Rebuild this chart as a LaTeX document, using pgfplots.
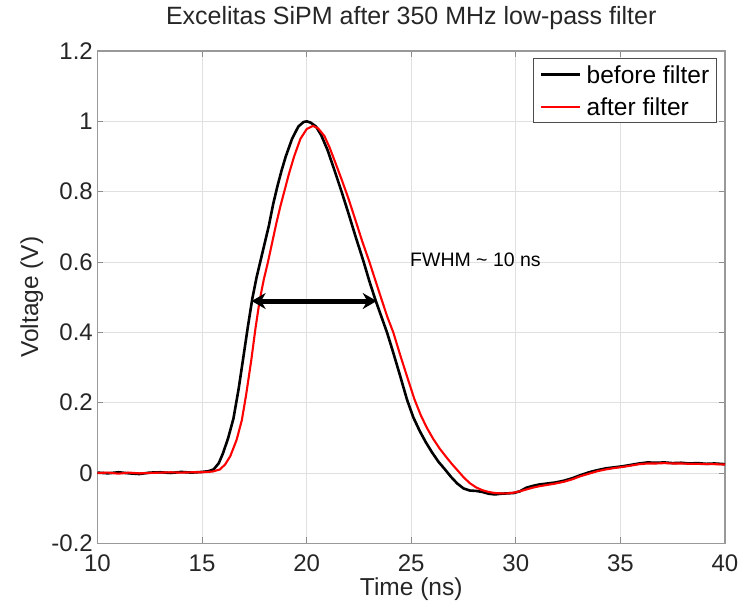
\documentclass[border=0pt]{standalone}
\usepackage{pgfplots}
\pgfplotsset{compat=1.18}
\usetikzlibrary{arrows.meta}
\usepackage{fontspec}
\setmainfont{Liberation Sans}
\pgfplotstableread{
x y
10.0 0.001
10.5 -0.001
11.0 0.002
11.5 -0.001
12.0 -0.003
12.5 0.001
13.0 0.002
13.5 0.000
14.0 0.003
14.5 0.001
15.0 0.003
15.3 0.005
15.55 0.010
15.8 0.028
16.0 0.056
16.25 0.10
16.5 0.155
16.75 0.24
17.0 0.34
17.2 0.42
17.4 0.495
17.6 0.555
17.8 0.605
18.0 0.655
18.2 0.705
18.4 0.765
18.6 0.815
18.8 0.86
19.0 0.90
19.3 0.95
19.6 0.985
19.85 0.998
20.0 1.0
20.2 0.996
20.45 0.985
20.7 0.96
21.0 0.918
21.3 0.866
21.67 0.80
22.0 0.738
22.35 0.67
22.7 0.605
23.0 0.545
23.3 0.49
23.6 0.44
23.85 0.398
24.1 0.35
24.45 0.28
24.8 0.208
25.1 0.158
25.4 0.12
25.7 0.087
26.0 0.058
26.3 0.032
26.6 0.011
26.9 -0.011
27.2 -0.03
27.5 -0.044
27.8 -0.050
28.1 -0.051
28.4 -0.054
28.7 -0.059
29.0 -0.061
29.3 -0.059
29.6 -0.058
29.9 -0.057
30.2 -0.052
30.5 -0.042
30.8 -0.037
31.1 -0.033
31.5 -0.030
31.9 -0.027
32.3 -0.022
32.7 -0.015
33.1 -0.006
33.5 0.002
33.9 0.008
34.3 0.013
34.7 0.016
35.1 0.019
35.5 0.023
35.9 0.027
36.3 0.030
36.7 0.029
37.1 0.030
37.5 0.028
37.9 0.029
38.3 0.027
38.7 0.028
39.1 0.026
39.5 0.027
40.0 0.025
}\before
\pgfplotstableread{
x y
10.0 0.000
10.5 0.001
11.0 -0.002
11.5 0.001
12.0 -0.001
12.5 0.000
13.0 0.001
13.5 0.002
14.0 0.001
14.5 0.002
15.0 0.002
15.5 0.004
15.85 0.010
16.1 0.024
16.35 0.048
16.65 0.094
16.9 0.15
17.1 0.22
17.35 0.32
17.55 0.41
17.75 0.49
17.95 0.55
18.15 0.60
18.35 0.655
18.55 0.71
18.75 0.76
18.95 0.805
19.15 0.85
19.4 0.90
19.7 0.95
20.0 0.978
20.3 0.987
20.55 0.98
20.85 0.958
21.1 0.925
21.4 0.878
21.7 0.83
22.0 0.78
22.3 0.725
22.65 0.66
23.0 0.60
23.3 0.545
23.6 0.49
23.85 0.445
24.14 0.40
24.5 0.33
24.85 0.265
25.15 0.21
25.45 0.165
25.75 0.128
26.05 0.097
26.35 0.07
26.65 0.047
26.95 0.025
27.25 0.005
27.5 -0.012
27.8 -0.029
28.1 -0.041
28.4 -0.049
28.7 -0.054
29.0 -0.057
29.3 -0.058
29.6 -0.058
29.9 -0.056
30.2 -0.052
30.5 -0.047
30.8 -0.042
31.1 -0.038
31.5 -0.034
31.9 -0.030
32.3 -0.025
32.7 -0.018
33.1 -0.009
33.5 -0.002
33.9 0.005
34.3 0.010
34.7 0.014
35.1 0.017
35.5 0.021
35.9 0.025
36.3 0.027
36.7 0.027
37.1 0.028
37.5 0.027
37.9 0.027
38.3 0.026
38.7 0.026
39.1 0.025
39.5 0.025
40.0 0.024
}\after
\begin{document}
\begin{tikzpicture}
\path[use as bounding box] (-97.5pt,-59.7pt) rectangle (647.5pt,543.3pt);
\begin{axis}[
  at={(0pt,0pt)}, anchor=south west,
  scale only axis, width=627.5pt, height=492.3pt,
  xmin=10, xmax=40, ymin=-0.2, ymax=1.2,
  xtick={10,15,20,25,30,35,40},
  xticklabels={10,15,20,25,30,35,40},
  ytick={-0.2,0,0.2,0.4,0.6,0.8,1,1.2},
  yticklabels={-0.2,0,0.2,0.4,0.6,0.8,1,1.2},
  tick align=inside,
  major tick length=6pt,
  every tick/.style={black!45, line width=0.8pt},
  axis line style={black!40, line width=1.2pt},
  grid=major,
  major grid style={black!12, line width=0.8pt},
  /pgf/number format/assume math mode=true,
  ticklabel style={font=\fontsize{24}{28}\selectfont, text=black!85},
  xticklabel style={anchor=base, inner sep=0pt, yshift=-27.7pt},
  yticklabel style={anchor=east, inner sep=0pt, xshift=-4.5pt},
  title={Excelitas SiPM after 350 MHz low-pass filter},
  title style={at={(axis description cs:0.5,1)}, anchor=base, yshift=20pt, inner sep=0pt, font=\fontsize{25}{29}\selectfont, text=black!85},
  xlabel={Time (ns)},
  xlabel style={at={(axis description cs:0.5,0)}, anchor=base, yshift=-51.7pt, inner sep=0pt, font=\fontsize{24.5}{28}\selectfont, text=black!85},
  ylabel={Voltage (V)},
  ylabel style={at={(axis description cs:-0.0948,0.5)}, anchor=base, inner sep=0pt, font=\fontsize{24.5}{28}\selectfont, text=black!85},
  legend style={at={(1,1)}, anchor=north east, xshift=-8.3pt, yshift=-7.3pt,
    draw=black!70, line width=0.8pt, fill=white,
    font=\fontsize{24.5}{28}\selectfont, inner xsep=7pt, inner ysep=7pt,
    row sep=15.2pt, nodes={inner sep=0pt, text height=17.5pt, text depth=0pt},
    /tikz/every odd column/.append style={column sep=5pt}},
  legend cell align=left,
  legend image code/.code={\draw[#1] (0pt,0pt) -- (39pt,0pt);},
]
\addplot[black, line width=2.6pt, line join=round] table[x=x,y=y] {\before};
\addlegendentry{before filter}
\addplot[red, line width=2.1pt, line join=round] table[x=x,y=y] {\after};
\addlegendentry{after filter}
\addplot[black, line width=5pt, {Stealth[length=14pt,width=16pt]}-{Stealth[length=14pt,width=16pt]}, forget plot] coordinates {(17.37,0.489) (23.35,0.489)};
\node[anchor=west, inner sep=0pt, font=\fontsize{19.5}{23}\selectfont] at (axis cs:24.94,0.606) {FWHM \textasciitilde\ 10 ns};
\end{axis}
\end{tikzpicture}
\end{document}
